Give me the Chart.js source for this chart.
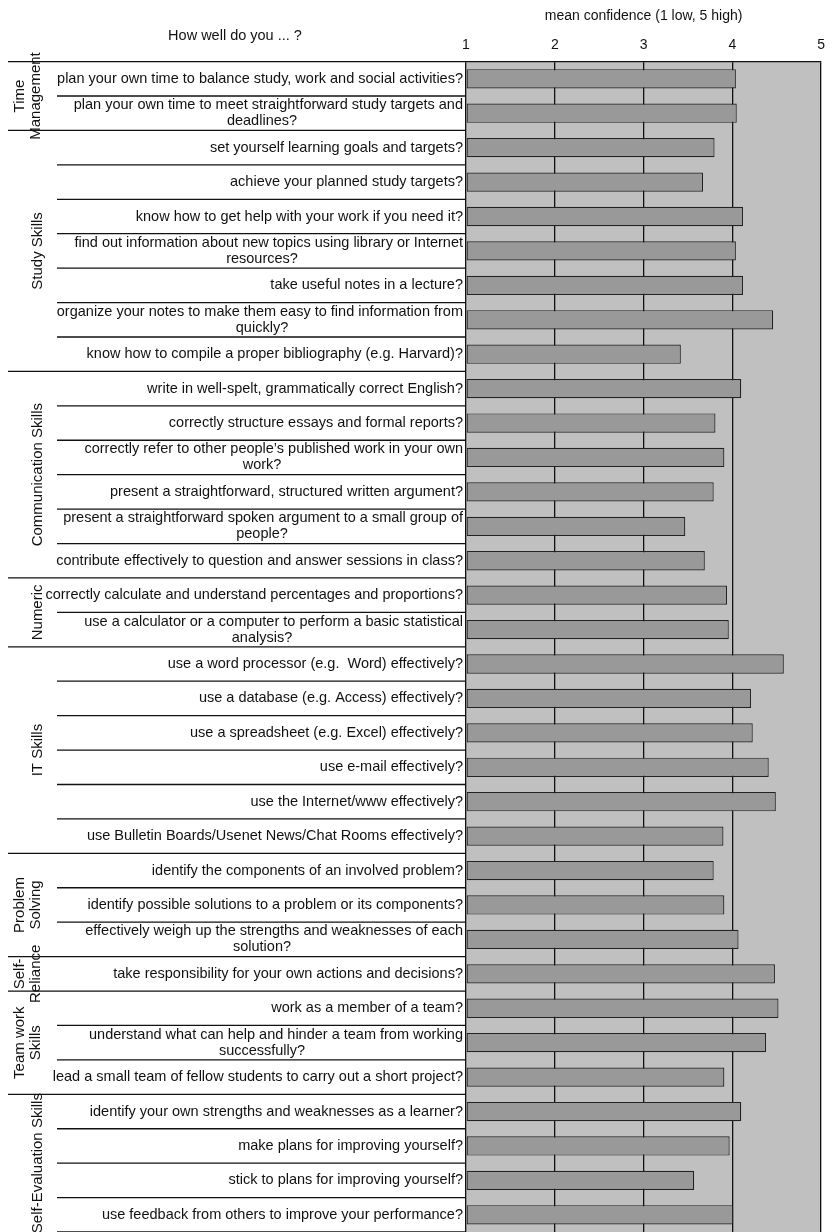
<!DOCTYPE html>
<html>
<head>
<meta charset="utf-8">
<script src="https://cdn.jsdelivr.net/npm/chart.js@4.4.0/dist/chart.umd.min.js"></script>
<style>
  body { margin: 0; background: #fff; }
  #wrap { width: 833px; height: 1232px; }
</style>
</head>
<body>
<div id="wrap"><canvas id="skillChart"></canvas></div>
<script>
const questions = [
  ['plan your own time to balance study, work and social activities?'],
  ['plan your own time to meet straightforward study targets and', 'deadlines?'],
  ['set yourself learning goals and targets?'],
  ['achieve your planned study targets?'],
  ['know how to get help with your work if you need it?'],
  ['find out information about new topics using library or Internet', 'resources?'],
  ['take useful notes in a lecture?'],
  ['organize your notes to make them easy to find information from', 'quickly?'],
  ['know how to compile a proper bibliography (e.g. Harvard)?'],
  ['write in well-spelt, grammatically correct English?'],
  ['correctly structure essays and formal reports?'],
  ['correctly refer to other people\u2019s published work in your own', 'work?'],
  ['present a straightforward, structured written argument?'],
  ['present a straightforward spoken argument to a small group of', 'people?'],
  ['contribute effectively to question and answer sessions in class?'],
  ['correctly calculate and understand percentages and proportions?'],
  ['use a calculator or a computer to perform a basic statistical', 'analysis?'],
  ['use a word processor (e.g.  Word) effectively?'],
  ['use a database (e.g. Access) effectively?'],
  ['use a spreadsheet (e.g. Excel) effectively?'],
  ['use e-mail effectively?'],
  ['use the Internet/www effectively?'],
  ['use Bulletin Boards/Usenet News/Chat Rooms effectively?'],
  ['identify the components of an involved problem?'],
  ['identify possible solutions to a problem or its components?'],
  ['effectively weigh up the strengths and weaknesses of each', 'solution?'],
  ['take responsibility for your own actions and decisions?'],
  ['work as a member of a team?'],
  ['understand what can help and hinder a team from working', 'successfully?'],
  ['lead a small team of fellow students to carry out a short project?'],
  ['identify your own strengths and weaknesses as a learner?'],
  ['make plans for improving yourself?'],
  ['stick to plans for improving yourself?'],
  ['use feedback from others to improve your performance?']
];
const meanConfidence = [
  4.04, 4.05, 3.80, 3.67, 4.12, 4.04, 4.12, 4.46, 3.42,
  4.10, 3.81, 3.91, 3.79, 3.47, 3.69,
  3.94, 3.96,
  4.58, 4.21, 4.23, 4.41, 4.49, 3.90,
  3.79, 3.91, 4.07,
  4.48,
  4.52, 4.38, 3.91,
  4.10, 3.97, 3.57, 4.01
];
const groupNames = [
  ['Time', 'Management'], ['Study Skills'], ['Communication Skills'], ['Numeric'],
  ['IT Skills'], ['Problem', 'Solving'], ['Self-', 'Reliance'], ['Team work', 'Skills'],
  ['Self-Evaluation Skills']
];
const groupStarts = [0, 2, 9, 15, 17, 23, 26, 27, 30];
const xTicks = [1, 2, 3, 4, 5];

const FAMILY = '"Liberation Sans", Arial, sans-serif';
const FONT = '14.5px ' + FAMILY;

const labelPlugin = {
  id: 'labelPlugin',
  afterDraw(chart) {
    const c = chart.ctx, area = chart.chartArea, ys = chart.scales.y;
    const n = questions.length;
    const rowH = (area.bottom - area.top) / n;
    c.save();
    c.font = FONT;
    c.fillStyle = '#111';
    c.strokeStyle = '#111';
    c.lineWidth = 1.3;
    c.textAlign = 'center';
    c.textBaseline = 'middle';
    c.fillText('How well do you ... ?', 235, 36);
    c.beginPath(); c.moveTo(8, area.top); c.lineTo(area.left, area.top); c.stroke();
    for (let i = 1; i <= n; i++) {
      const y = area.top + i * rowH;
      const left = groupStarts.includes(i) ? 8 : 57;
      c.beginPath(); c.moveTo(left, y); c.lineTo(area.left, y); c.stroke();
    }
    c.textAlign = 'right';
    questions.forEach((lines, i) => {
      const yc = ys.getPixelForValue(i);
      const off = (lines.length - 1) * 8;
      lines.forEach((ln, k) => {
        if (lines.length > 1 && k === lines.length - 1) {
          c.textAlign = 'center';
          c.fillText(ln, 262, yc - off + k * 16);
          c.textAlign = 'right';
        } else {
          c.fillText(ln, area.left - 3, yc - off + k * 16);
        }
      });
    });
    groupNames.forEach((lines, g) => {
      const s = groupStarts[g];
      const e = g + 1 < groupStarts.length ? groupStarts[g + 1] : n;
      const yc = area.top + (s + e) / 2 * rowH;
      c.save();
      c.translate(0, yc);
      c.rotate(-Math.PI / 2);
      c.textAlign = 'center';
      c.font = '15px ' + FAMILY;
      lines.forEach((ln, k) => {
        const x = lines.length > 1 ? 20 + k * 16 : 38;
        c.fillText(ln, 0, x);
      });
      c.restore();
    });
    c.restore();
  }
};

new Chart(document.getElementById('skillChart'), {
  type: 'bar',
  data: {
    labels: questions,
    datasets: [{
      data: meanConfidence,
      base: 1,
      backgroundColor: '#999999',
      borderColor: '#222222',
      borderWidth: 1.2,
      borderSkipped: false,
      barPercentage: 0.56,
      categoryPercentage: 1
    }]
  },
  options: {
    indexAxis: 'y',
    animation: false,
    responsive: true,
    maintainAspectRatio: false,
    layout: { padding: { left: 466, right: -5, top: 8, bottom: 0 } },
    plugins: { legend: { display: false }, tooltip: { enabled: false } },
    scales: {
      x: {
        position: 'top',
        min: 1, max: 5,
        afterBuildTicks: (ax) => { ax.ticks = xTicks.map(v => ({ value: v })); },
        ticks: { color: '#111', font: { size: 14, family: FAMILY }, padding: 8 },
        grid: { color: '#111', lineWidth: 1.3, drawTicks: false },
        border: { color: '#111', width: 1.3 },
        title: { display: true, text: 'mean confidence (1 low, 5 high)', color: '#111',
                 font: { size: 14, family: FAMILY }, padding: { top: 0, bottom: 4 } }
      },
      y: { display: false, offset: true, grid: { display: false } }
    }
  },
  plugins: [{
    id: 'plotBg',
    beforeDraw(chart) {
      const a = chart.chartArea;
      chart.ctx.save();
      chart.ctx.fillStyle = '#c0c0c0';
      chart.ctx.fillRect(a.left, a.top, a.right - a.left, a.bottom - a.top);
      chart.ctx.restore();
    }
  }, labelPlugin]
});
</script>
</body>
</html>
